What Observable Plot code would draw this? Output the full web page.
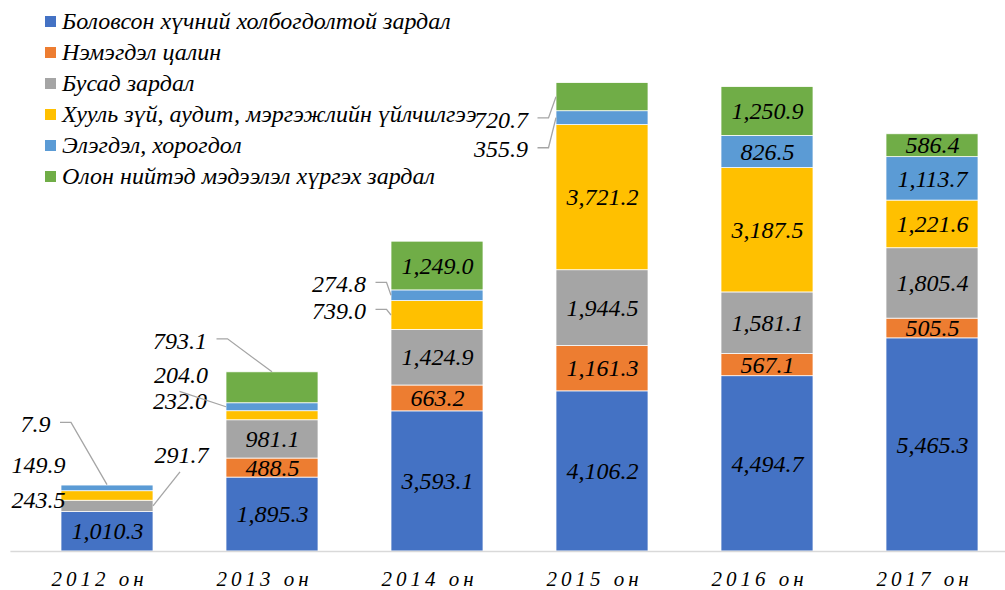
<!DOCTYPE html>
<html><head><meta charset="utf-8">
<script src="https://cdn.jsdelivr.net/npm/d3@7"></script>
<script src="https://cdn.jsdelivr.net/npm/@observablehq/plot@0.6"></script>
<style>
body{margin:0;background:#fff;}
#wrap{position:relative;width:1005px;height:590px;overflow:hidden;}
#legend{position:absolute;left:45px;top:6px;font-family:"Liberation Serif","Times New Roman",serif;font-style:italic;font-size:24px;color:#000;}
.row{height:31px;display:flex;align-items:center;white-space:nowrap;}
.sw{width:11px;height:11px;margin-right:6px;flex:none;}
svg g[aria-label="x-axis tick label"] text{letter-spacing:4px;}
</style></head>
<body><div id="wrap"><div id="chart"></div><div id="legend"></div></div>
<script>
const years = ["2012 он", "2013 он", "2014 он", "2015 он", "2016 он", "2017 он"];
const seriesNames = [
  "Боловсон хүчний холбогдолтой зардал",
  "Нэмэгдэл цалин",
  "Бусад зардал",
  "Хууль зүй, аудит, мэргэжлийн үйлчилгээ",
  "Элэгдэл, хорогдол",
  "Олон нийтэд мэдээлэл хүргэх зардал"
];
const staffCost   = [1010.3, 1895.3, 3593.1, 4106.2, 4494.7, 5465.3];
const bonusPay    = [0, 488.5, 663.2, 1161.3, 567.1, 505.5];
const otherCost   = [291.7, 981.1, 1424.9, 1944.5, 1581.1, 1805.4];
const legalAudit  = [243.5, 232.0, 739.0, 3721.2, 3187.5, 1221.6];
const depreciation= [149.9, 204.0, 274.8, 355.9, 826.5, 1113.7];
const publicInfo  = [7.9, 793.1, 1249.0, 720.7, 1250.9, 586.4];
const seriesValues = [staffCost, bonusPay, otherCost, legalAudit, depreciation, publicInfo];
const colors = ["#4472C4", "#ED7D31", "#A5A5A5", "#FFC000", "#5B9BD5", "#70AD47"];

// callout label placement (pixel offsets from segment anchor) for small segments
const callouts = [
  {year: "2012 он", s: 5, at: "top", dx: -57, dy: -60.7, anchor: "end", leader: "elbow", edge: "center"},
  {year: "2012 он", s: 4, at: "mid", dx: -42, dy: -23, anchor: "end"},
  {year: "2012 он", s: 3, at: "mid", dx: -42, dy: 4, anchor: "end"},
  {year: "2012 он", s: 2, at: "mid", dx: 74, dy: -51, anchor: "middle", leader: "below", edge: "right"},
  {year: "2013 он", s: 5, at: "top", dx: -65.5, dy: -31.5, anchor: "end", leader: "elbow", edge: "center"},
  {year: "2013 он", s: 4, at: "mid", dx: -91.5, dy: -32.4, anchor: "middle", leader: "below", edge: "left"},
  {year: "2013 он", s: 3, at: "mid", dx: -65.5, dy: -14.8, anchor: "end"},
  {year: "2014 он", s: 4, at: "mid", dx: -71.5, dy: -11.4, anchor: "end", leader: "elbow", edge: "left"},
  {year: "2014 он", s: 3, at: "mid", dx: -71.5, dy: -4.2, anchor: "end", leader: "elbow", edge: "left"},
  {year: "2015 он", s: 5, at: "mid", dx: -74.5, dy: 22.8, anchor: "end", leader: "elbow", edge: "left"},
  {year: "2015 он", s: 4, at: "mid", dx: -74.5, dy: 31.6, anchor: "end", leader: "elbow", edge: "left"}
];

const fmt = d3.format(",.1f");
const FONT = '"Liberation Serif","Times New Roman",serif';

const data = [];
seriesValues.forEach((vals, s) => {
  vals.forEach((v, i) => {
    if (v > 0) data.push({year: years[i], series: seriesNames[s], s, value: v});
  });
});
const isCallout = d => callouts.some(c => c.year === d.year && c.s === d.s);

const textBase = {fontSize: 24, fontStyle: "italic", fontFamily: FONT, fill: "black"};

const marks = [
  Plot.barY(data, {x: "year", y: "value", fill: "series", z: "series", stroke: "white", strokeWidth: 0.75}),
  Plot.ruleY([0], {stroke: "#d9d9d9", strokeWidth: 1.5, insetLeft: -31, insetRight: -8}),
  Plot.text(data, Plot.stackY({x: "year", y: "value", z: "series",
    text: d => isCallout(d) ? null : fmt(d.value), ...textBase}))
];
callouts.forEach(c => {
  const stackFn = c.at === "top" ? Plot.stackY2 : Plot.stackY;
  marks.push(Plot.text(data, stackFn({x: "year", y: "value", z: "series",
    text: d => (d.year === c.year && d.s === c.s) ? fmt(d.value) : null,
    dx: c.dx, dy: c.dy, textAnchor: c.anchor, ...textBase})));
});

const plot = Plot.plot({
  width: 1005,
  height: 590,
  marginTop: 5,
  marginBottom: 39,
  marginLeft: 41.4,
  marginRight: 7.6,
  x: {domain: years, paddingInner: 0.44, paddingOuter: 0.1, label: null},
  y: {domain: [0, 14000], axis: null},
  color: {domain: seriesNames, range: colors},
  style: {fontFamily: FONT, background: "white"},
  marks: [
    ...marks,
    Plot.axisX({tickSize: 0, tickPadding: 20, dx: -8, fontSize: 21, fontStyle: "italic", fontFamily: FONT, fill: "black", label: null, lineAnchor: "top"})
  ]
});
document.getElementById("chart").appendChild(plot);

// leader lines, positioned through the plot's own scales
const xs = plot.scale("x"), ys = plot.scale("y");
const bw = xs.bandwidth;
const svg = d3.select(plot);
const g = svg.append("g").attr("fill", "none").attr("stroke", "#a5a5a5").attr("stroke-width", 1.3);
callouts.filter(c => c.leader).forEach(c => {
  const i = years.indexOf(c.year);
  let bottom = 0;
  for (let k = 0; k < c.s; k++) bottom += seriesValues[k][i];
  const top = bottom + seriesValues[c.s][i];
  const cx = xs.apply(c.year) + bw / 2;
  const ay = c.at === "top" ? ys.apply(top) : ys.apply((bottom + top) / 2);
  const ax = c.edge === "left" ? cx - bw / 2 : c.edge === "right" ? cx + bw / 2 : cx;
  const tx = cx + c.dx, ty = ay + c.dy;
  let pts;
  if (c.leader === "elbow") pts = [[tx + 10, ty - 1.5], [tx + 21, ty - 1.5], [ax, ay]];
  else pts = [[tx - 1, ty + 17], [ax, ay]];
  g.append("path").attr("d", d3.line()(pts));
});

// legend
const legend = document.getElementById("legend");
seriesNames.forEach((n, s) => {
  const row = document.createElement("div");
  row.className = "row";
  const sw = document.createElement("span");
  sw.className = "sw"; sw.style.background = colors[s];
  const t = document.createElement("span");
  t.textContent = n;
  row.appendChild(sw); row.appendChild(t);
  legend.appendChild(row);
});
</script></body></html>
